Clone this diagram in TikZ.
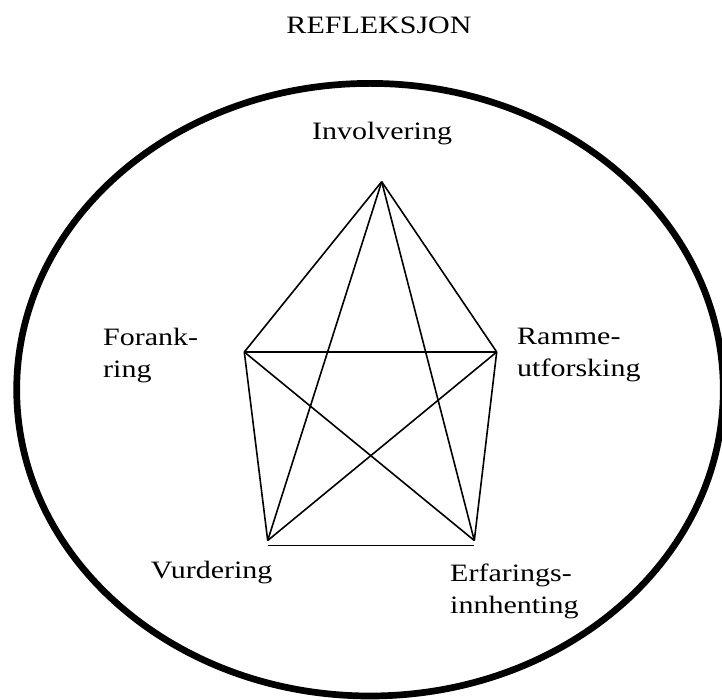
\documentclass[tikz,border=0pt]{standalone}
\usepackage{fontspec}
\setmainfont[FakeStretch=1.2]{Liberation Serif}
\begin{document}
\begin{tikzpicture}[x=1pt,y=-1pt,
  lbl/.style={inner sep=0pt, font=\fontsize{25}{32}\selectfont},
  edge/.style={line width=1.6pt},
  rim/.style={line width=6.7pt}]
\useasboundingbox (0,0) rectangle (722,700);
\draw[rim] (370,389.7) ellipse [x radius=353.3pt, y radius=306.3pt];

\node[lbl, anchor=base] (title) at (379,33.3) {REFLEKSJON};
\node[lbl, anchor=base] (inv) at (382,139.3) {Involvering};
\node[lbl, anchor=north west, align=left] (for) at (103,327.9) {Forank-\\ring};
\node[lbl, anchor=north west, align=left] (ram) at (517,328.4) {Ramme-\\utforsking};
\node[lbl, anchor=base west] (vur) at (150.7,578.5) {Vurdering};
\node[lbl, anchor=north west, align=left] (erf) at (450,563.6) {Erfarings-\\innhenting};

\coordinate (t) at (381.7,181.7);
\coordinate (l) at (244.3,352);
\coordinate (r) at (496.7,352);
\coordinate (bl) at (267.7,540.5);
\coordinate (br) at (474.3,540.5);
\coordinate (bl2) at (267.7,545.3);
\coordinate (br2) at (474.3,545.3);

\draw[edge] (t) -- (l);
\draw[edge] (t) -- (r);
\draw[edge] (t) -- (bl);
\draw[edge] (t) -- (br);
\draw[edge] (l) -- (r);
\draw[edge] (l) -- (bl);
\draw[edge] (l) -- (br);
\draw[edge] (r) -- (bl);
\draw[edge] (r) -- (br);
\draw[edge] (bl2) -- (br2);
\end{tikzpicture}
\end{document}
